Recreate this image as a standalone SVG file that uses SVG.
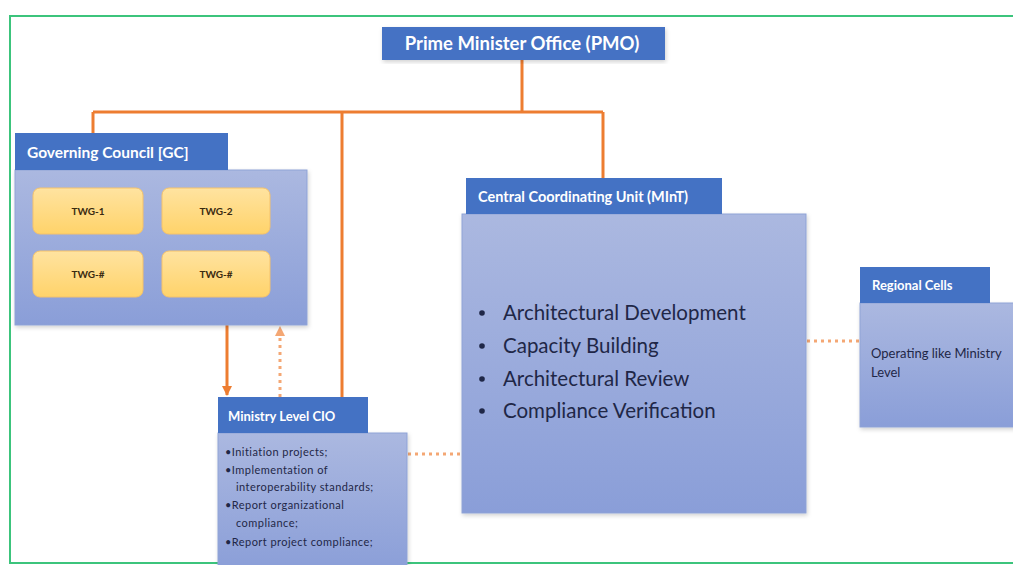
<svg xmlns="http://www.w3.org/2000/svg" width="1013" height="565" viewBox="0 0 1013 565">
  <style>
    .hdr { fill: #4472C4; }
    .body { fill: url(#bodyGrad); stroke: #8FA3D6; stroke-width: 1; }
    .twg { fill: url(#twgGrad); stroke: #F5C26B; stroke-width: 1; }
    .htxt { font-family: Lato, "Liberation Sans", sans-serif; font-weight: bold; fill: #FFFFFF; }
    .btxt { font-family: Lato, "Liberation Sans", sans-serif; fill: #1F2747; }
    .ttxt { font-family: Lato, "Liberation Sans", sans-serif; font-weight: bold; fill: #3A2A10; font-size: 10px; text-anchor: middle; }
    .solid { stroke: #ED7D31; stroke-width: 3; fill: none; }
    .dotted { stroke: #F4A774; stroke-width: 3; fill: none; stroke-dasharray: 3 4; }
  </style>
  <defs>
    <linearGradient id="bodyGrad" x1="0" y1="0" x2="0" y2="1">
      <stop offset="0" stop-color="#ABB8E0"/>
      <stop offset="1" stop-color="#8A9ED8"/>
    </linearGradient>
    <linearGradient id="twgGrad" x1="0" y1="0" x2="0" y2="1">
      <stop offset="0" stop-color="#FFE3A0"/>
      <stop offset="1" stop-color="#FFD36A"/>
    </linearGradient>
    <filter id="shadow" x="-10%" y="-10%" width="120%" height="120%">
      <feDropShadow dx="1" dy="2" stdDeviation="2" flood-color="#000000" flood-opacity="0.18"/>
    </filter>
    <marker id="arrowSolid" viewBox="0 0 10 10" refX="9" refY="5" markerWidth="3.5" markerHeight="3.5" orient="auto">
      <path d="M0,0 L10,5 L0,10 z" fill="#ED7D31"/>
    </marker>
    <marker id="arrowLight" viewBox="0 0 10 10" refX="9" refY="5" markerWidth="3.5" markerHeight="3.5" orient="auto">
      <path d="M0,0 L10,5 L0,10 z" fill="#F4A774"/>
    </marker>
  </defs>

  <rect width="1013" height="565" fill="#FFFFFF"/>
  <!-- outer frame -->
  <rect x="10" y="16" width="1010" height="547" fill="none" stroke="#3CC47C" stroke-width="2"/>

  <!-- connectors -->
  <g id="connectors">
    <path class="solid" d="M522,60 V112"/>
    <path class="solid" d="M93,112 H603"/>
    <path class="solid" d="M93,112 V133"/>
    <path class="solid" d="M603,112 V178"/>
    <path class="solid" d="M342,112 V397"/>
    <path class="solid" d="M227,325 V395" marker-end="url(#arrowSolid)"/>
    <path class="dotted" d="M280,397 V327" marker-end="url(#arrowLight)"/>
    <path class="dotted" d="M408,454 H462"/>
    <path class="dotted" d="M807,341 H860"/>
  </g>

  <!-- Prime Minister Office -->
  <g id="pmo">
    <rect class="hdr" x="382" y="27" width="283" height="33" filter="url(#shadow)"/>
    <text class="htxt" x="522" y="50" font-size="18.5" text-anchor="middle">Prime Minister Office (PMO)</text>
  </g>

  <!-- Governing Council -->
  <g id="gc">
    <rect class="body" x="15" y="170" width="292" height="155" filter="url(#shadow)"/>
    <rect class="hdr" x="15" y="133" width="213" height="37"/>
    <text class="htxt" x="27" y="158" font-size="15.5">Governing Council [GC]</text>
  </g>
  <g id="twg1">
    <rect class="twg" x="33" y="188" width="110" height="46" rx="7"/>
    <text class="ttxt" x="88" y="215">TWG-1</text>
  </g>
  <g id="twg2">
    <rect class="twg" x="162" y="188" width="108" height="46" rx="7"/>
    <text class="ttxt" x="216" y="215">TWG-2</text>
  </g>
  <g id="twg3">
    <rect class="twg" x="33" y="251" width="110" height="46" rx="7"/>
    <text class="ttxt" x="88" y="278">TWG-#</text>
  </g>
  <g id="twg4">
    <rect class="twg" x="162" y="251" width="108" height="46" rx="7"/>
    <text class="ttxt" x="216" y="278">TWG-#</text>
  </g>

  <!-- Ministry Level CIO -->
  <g id="ministry-cio">
    <rect class="body" x="218" y="433" width="189" height="140" filter="url(#shadow)"/>
    <rect class="hdr" x="218" y="397" width="150" height="36"/>
    <text class="htxt" x="228" y="421" font-size="13">Ministry Level CIO</text>
    <g class="btxt" font-size="11" letter-spacing="0.45">
      <text x="225" y="456">•Initiation projects;</text>
      <text x="225" y="474">•Implementation of</text>
      <text x="236" y="491">interoperability standards;</text>
      <text x="225" y="509">•Report organizational</text>
      <text x="236" y="527">compliance;</text>
      <text x="225" y="546">•Report project compliance;</text>
    </g>
  </g>

  <!-- Central Coordinating Unit -->
  <g id="ccu">
    <rect class="body" x="462" y="214" width="344" height="299" filter="url(#shadow)"/>
    <rect class="hdr" x="466" y="178" width="256" height="36"/>
    <text class="htxt" x="478" y="202" font-size="14.5">Central Coordinating Unit (MInT)</text>
    <g class="btxt" font-size="20.5">
      <circle cx="482" cy="313" r="2.8" fill="#1F2747"/>
      <text x="503" y="320">Architectural Development</text>
      <circle cx="482" cy="346" r="2.8" fill="#1F2747"/>
      <text x="503" y="353">Capacity Building</text>
      <circle cx="482" cy="379" r="2.8" fill="#1F2747"/>
      <text x="503" y="386">Architectural Review</text>
      <circle cx="482" cy="411" r="2.8" fill="#1F2747"/>
      <text x="503" y="418">Compliance Verification</text>
    </g>
  </g>

  <!-- Regional Cells -->
  <g id="regional-cells">
    <rect class="body" x="860" y="303" width="160" height="124" filter="url(#shadow)"/>
    <rect class="hdr" x="860" y="267" width="130" height="36"/>
    <text class="htxt" x="872" y="290" font-size="13">Regional Cells</text>
    <g class="btxt" font-size="13">
      <text x="871" y="358">Operating like Ministry</text>
      <text x="871" y="377">Level</text>
    </g>
  </g>
</svg>
